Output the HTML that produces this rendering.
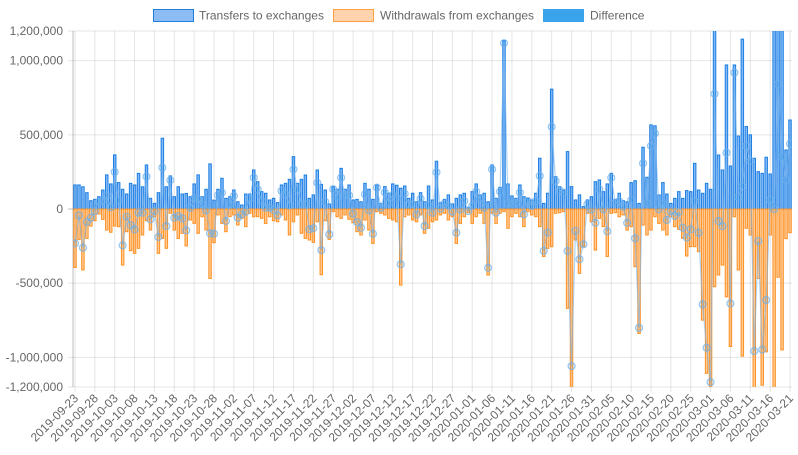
<!DOCTYPE html>
<html><head><meta charset="utf-8"><style>
body{margin:0;background:#fff;font-family:"Liberation Sans",sans-serif}
svg text{font-family:"Liberation Sans",sans-serif;fill:#666;font-size:12px}
</style></head><body>
<svg id="c" width="798" height="450">
<g>
<g><rect x="153.5" y="9.5" width="40" height="12" fill="#8cbcf3" stroke="#1e7fe0"/><text x="199" y="19.5">Transfers to exchanges</text></g>
<g><rect x="333.5" y="9.5" width="40" height="12" fill="#ffd3ad" stroke="#ff9f40"/><text x="380" y="19.5">Withdrawals from exchanges</text></g>
<g><rect x="543.5" y="9.5" width="40" height="12" fill="#3ba3ec" stroke="#3ba3ec"/><text x="590" y="19.5">Difference</text></g>
</g>
</svg>
<script>
const transfers=[162,162,150,110,56,65,83,128,230,169,365,178,133,101,173,162,240,150,297,72,38,110,477,150,223,83,150,101,105,83,169,230,83,133,304,60,133,207,72,83,128,49,27,101,101,263,
184,117,106,61,72,43,162,173,200,353,173,200,229,72,95,263,166,128,34,151,133,274,133,162,61,65,49,173,133,65,162,38,151,106,169,160,140,155,72,106,49,
110,49,155,61,322,43,65,95,34,72,95,106,11,117,169,95,106,49,297,72,146,1136,169,88,72,
162,83,72,61,106,342,38,106,808,218,151,128,387,151,61,95,16,61,83,184,196,117,169,
240,65,106,56,49,178,191,38,416,214,567,561,95,178,101,38,72,117,72,124,117,308,128,106,173,133,1300,364,263,971,290,971,492,1145,556,500,342,252,240,349,236,1300,1300,1300,398,600];
const withdrawals=[-394,-205,-411,-198,-115,-79,-34,-70,-142,-157,-115,-119,-378,-153,-281,-299,-265,-175,-79,-142,-52,-299,-198,-265,-29,-142,-198,-164,-249,-74,-97,-164,-52,-142,-468,-227,-40,-97,-153,-52,-40,-108,-63,-119,-29,-52,
-52,-63,-97,-52,-79,-86,-40,-74,-175,-86,-40,-164,-198,-209,-225,-86,-443,-79,-205,-18,-52,-63,-40,-70,-92,-153,-175,-74,-142,-232,-18,-29,-40,-63,-74,-86,-513,-52,-40,-74,-86,
-40,-164,-130,-86,-74,-40,-29,-74,-52,-232,-97,-52,-25,-97,-52,-29,-97,-445,-29,-97,-29,-18,-130,-52,-29,
-52,-119,-18,-40,-52,-119,-320,-265,-254,-29,-25,-18,-670,-1210,-209,-434,-254,-29,-86,-277,-63,-119,-320,
-29,-25,-52,-40,-142,-119,-389,-839,-108,-175,-142,-52,-97,-142,-175,-52,-119,-137,-198,-317,-254,-254,-288,-749,-1108,-1300,-524,-445,-378,-592,-927,-52,-411,-992,-130,-175,-1300,-468,-1188,-963,-175,-1300,-460,-950,-200,-160];
const yTicks=[1200,1000,500,0,-500,-1000,-1200];
const yTickLabels=["1,200,000","1,000,000","500,000","0","-500,000","-1,000,000","-1,200,000"];
const startDate="2019-09-23";

const NS="http://www.w3.org/2000/svg";
const svg=document.getElementById('c');
const L=73,R=792,T=31,B=387,N=transfers.length,W=(R-L)/N;
function xs(i){return L+(i+0.5)*W;}
function ys(v){return T+(1200-v)/2400*(B-T);}
function mk(t,a,p){const e=document.createElementNS(NS,t);for(const k in a)e.setAttribute(k,a[k]);(p||svg).appendChild(e);return e;}
const grid=mk('g',{});


yTicks.forEach((v,k)=>{
 mk('line',{x1:L-5,x2:R,y1:ys(v),y2:ys(v),stroke:v===0?'rgba(0,0,0,0.25)':'rgba(0,0,0,0.1)'},grid);
 const t=mk('text',{x:L-10,y:ys(v)+4,'text-anchor':'end'});t.textContent=yTickLabels[k];
 
 
});
const d0=new Date(startDate+"T00:00:00Z");
for(let i=0;i<N;i+=5){
 const x=xs(i);
 mk('line',{x1:x,x2:x,y1:T,y2:B+5,stroke:'rgba(0,0,0,0.1)'},grid);
 const d=new Date(d0.getTime()+i*86400000).toISOString().slice(0,10);
 const t=mk('text',{x:x+4,y:B+12,'text-anchor':'end',transform:`rotate(-45 ${x+4} ${B+12})`});t.textContent=d;
 
 
}
mk('line',{x1:L,x2:L,y1:T,y2:B,stroke:'rgba(0,0,0,0.25)'},grid);
const clip=mk('clipPath',{id:'cp'});mk('rect',{x:L,y:T,width:R-L,height:B-T},clip);
const plot=mk('g',{'clip-path':'url(#cp)'});


const bw=W*0.62;
for(let i=0;i<N;i++){
 const y0=ys(0);
 const yt=ys(transfers[i]);
 const b=mk('rect',{x:xs(i)-bw/2,y:yt,width:bw,height:Math.max(0,y0-yt),fill:'rgba(54,140,235,0.6)',stroke:'#1a7ee6','stroke-width':1},plot);
 
 
 const yw=ys(withdrawals[i]);
 const o=mk('rect',{x:xs(i)-bw/2,y:y0,width:bw,height:Math.max(0,yw-y0),fill:'rgba(255,159,64,0.55)',stroke:'#ff9020','stroke-width':1},plot);
 
 
}
let dp='';
for(let i=0;i<N;i++){const v=transfers[i]+withdrawals[i];dp+=(i?'L':'M')+xs(i).toFixed(1)+','+ys(v).toFixed(1);}
const ln=mk('path',{d:dp,fill:'none',stroke:'rgba(120,180,235,0.6)','stroke-width':1.2},plot);


for(let i=0;i<N;i++){
 const v=transfers[i]+withdrawals[i];
 const c=mk('circle',{cx:xs(i),cy:ys(v),r:3.5,fill:'rgba(54,162,235,0.15)',stroke:'rgba(110,175,235,0.7)','stroke-width':1.2},plot);
 
 
}
</script>
</body></html>
